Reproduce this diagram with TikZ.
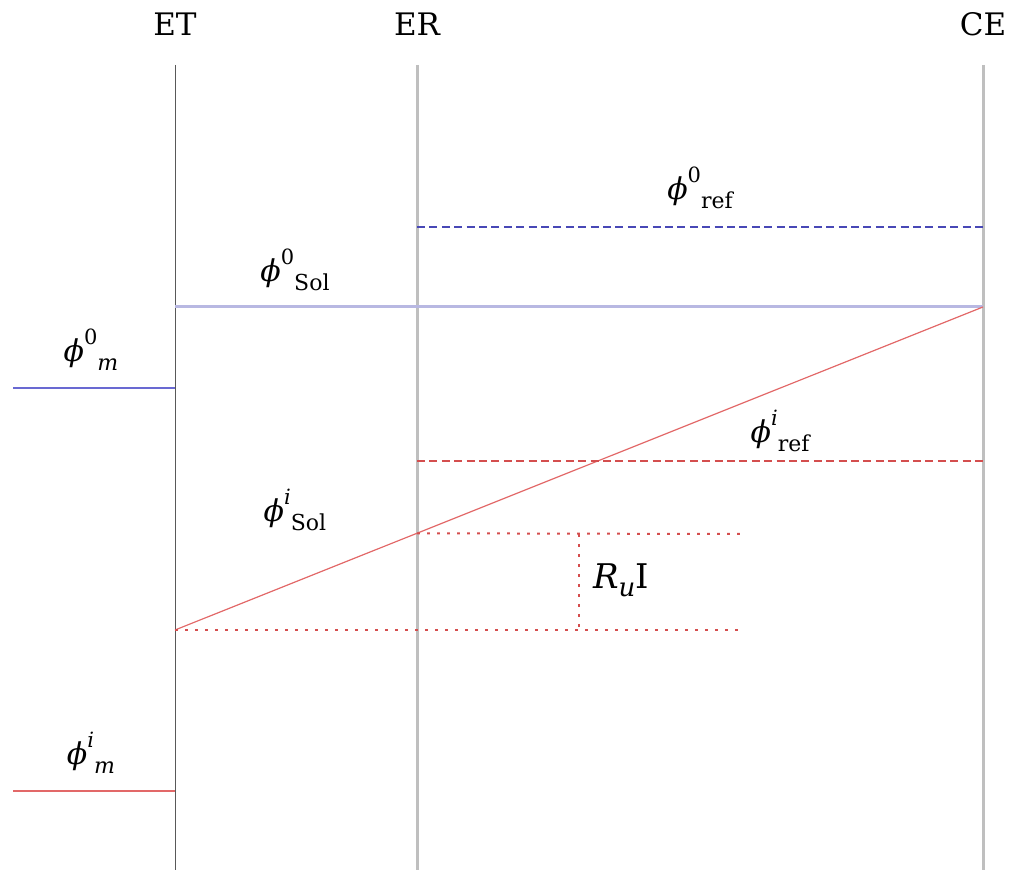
\documentclass[tikz,border=0pt]{standalone}
\usepackage{fontspec}
\setmainfont{DejaVu Serif}
\usetikzlibrary{positioning}

\definecolor{lavender}{RGB}{184,184,226}
\definecolor{ocpblue}{RGB}{105,105,210}
\definecolor{refblue}{RGB}{72,72,182}
\definecolor{refred}{RGB}{212,78,78}
\definecolor{curred}{RGB}{226,104,104}

% potential label: phi with superscript, then subscript shifted right
\newcommand\pot[2]{\textit{ϕ}\raisebox{1.05ex}{\fontsize{10.5}{10.5}\selectfont #1}\raisebox{-0.6ex}{\fontsize{11}{11}\selectfont #2}}

\begin{document}
\begin{tikzpicture}[
      x=0.5pt, y=-0.5pt,
      font=\fontsize{15}{18}\selectfont,
      head/.style={inner sep=1pt, font=\fontsize{15.5}{18}\selectfont},
      lbl/.style={inner sep=1pt, font=\fontsize{15}{18}\selectfont},
      etline/.style={line width=0.5pt, draw=black!65},
      electrode/.style={line width=1.5pt, draw=black!25},
      solblue/.style={line width=1.5pt, draw=lavender},
      thinblue/.style={line width=0.6pt, draw=ocpblue},
      thinred/.style={line width=0.6pt, draw=curred},
      refdash/.style={line width=0.8pt, dash pattern=on 4pt off 2.2pt},
      drop/.style={line width=1pt, draw=refred, dash pattern=on 1.4pt off 3.6pt}
  ]
  \useasboundingbox (0,0) rectangle (1013,870);

  % electrodes
  \node[head] (ET) at (175,24) {ET};
  \node[head] (ER) at (417,24) {ER};
  \node[head] (CE) at (983,24) {CE};
  \coordinate (ETtop) at (175,65);  \coordinate (ETbot) at (175,870);
  \coordinate (ERtop) at (417,65);  \coordinate (ERbot) at (417,870);
  \coordinate (CEtop) at (983,65);  \coordinate (CEbot) at (983,870);
  \draw[etline] (ETtop) -- (ETbot);
  \draw[electrode] (ERtop) -- (ERbot);
  \draw[electrode] (CEtop) -- (CEbot);

  % open circuit potentials
  \coordinate (m0L) at (13,388);    \coordinate (m0R) at (175,388);
  \coordinate (sol0L) at (175,307); \coordinate (sol0R) at (983,307);
  \coordinate (ref0L) at (417,227); \coordinate (ref0R) at (983,227);
  \draw[thinblue] (m0L) -- (m0R);
  \draw[solblue] (sol0L) -- (sol0R);
  \draw[refdash, draw=refblue] (ref0L) -- (ref0R);
  \node[lbl] (m0) at (91,350) {\pot{0}{\textit{m}}};
  \node[lbl] (sol0) at (295,270) {\pot{0}{Sol}};
  \node[lbl] (ref0) at (700,188) {\pot{0}{ref}};

  % potentials under current
  \coordinate (miL) at (13,791);    \coordinate (miR) at (175,791);
  \coordinate (soliL) at (175,630);
  \coordinate (refiL) at (417,461); \coordinate (refiR) at (983,461);
  \coordinate (soliER) at (417,533.3);
  \draw[thinred] (miL) -- (miR);
  \draw[thinred] (soliL) -- (sol0R);
  \draw[refdash, draw=refred] (refiL) -- (refiR);
  \node[lbl] (mi) at (91,753) {\pot{\textit{i}}{\textit{m}}};
  \node[lbl] (soli) at (295,510) {\pot{\textit{i}}{Sol}};
  \node[lbl] (refi) at (780,431) {\pot{\textit{i}}{ref}};

  % ohmic drop
  \coordinate (dropT) at (740,534); \coordinate (dropB) at (740,630);
  \coordinate (barT) at (579,534);  \coordinate (barB) at (579,630);
  \draw[drop] (soliER) -- (dropT);
  \draw[drop] (soliL) -- (dropB);
  \draw[drop] (barT) -- (barB);
  \node[lbl, font=\fontsize{17}{20}\selectfont] (RuI) at (621,580)
      {\textit{R}\raisebox{-0.45ex}{\fontsize{13}{13}\selectfont\textit{u}}I};
\end{tikzpicture}
\end{document}
